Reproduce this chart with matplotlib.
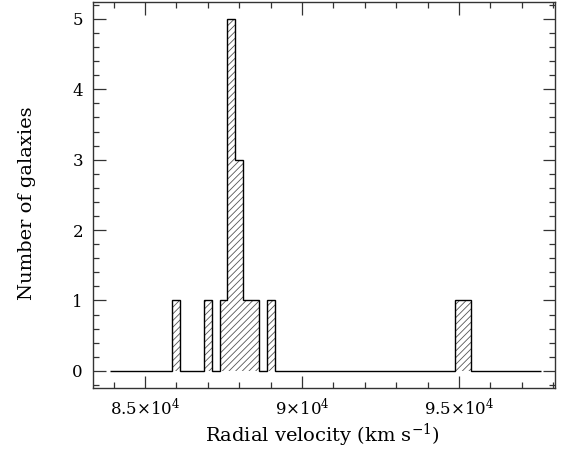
import numpy as np
import matplotlib
matplotlib.use("Agg")
import matplotlib.pyplot as plt
from matplotlib.ticker import MultipleLocator, FixedLocator, FixedFormatter

# ---- data ----
bin_start = 83875.0      # km/s, left edge of first bin
bin_width = 250.0        # km/s
counts = [0, 0, 0, 0, 0, 0, 0, 0, 1, 0,
          0, 0, 1, 0, 1, 5, 3, 1, 1, 0,
          1, 0, 0, 0, 0, 0, 0, 0, 0, 0,
          0, 0, 0, 0, 0, 0, 0, 0, 0, 0,
          0, 0, 0, 0, 1, 1, 0, 0, 0, 0,
          0, 0, 0, 0, 0]
xtick_values = [85000, 90000, 95000]
xtick_labels = [r"$8.5{\times}10^{4}$", r"$9{\times}10^{4}$", r"$9.5{\times}10^{4}$"]
ytick_values = [0, 1, 2, 3, 4, 5]
xlabel = r"Radial velocity (km s$^{-1}$)"
ylabel = "Number of galaxies"

plt.rcParams['font.family'] = ['DejaVu Serif']
plt.rcParams['mathtext.fontset'] = 'dejavuserif'
plt.rcParams['mathtext.default'] = 'rm'
plt.rcParams['hatch.linewidth'] = 0.6

edges = bin_start + bin_width * np.arange(len(counts) + 1)

fig = plt.figure(figsize=(5.66, 4.5), dpi=100)
ax = fig.add_axes([92.7/566, 1 - 387.7/450, (555 - 92.7)/566, (387.7 - 2)/450])

ax.stairs(counts, edges, baseline=0, fill=True, facecolor='none',
          edgecolor='#555555', linewidth=0, hatch='/////')
ax.stairs(counts, edges, baseline=0, fill=False, color='black', linewidth=1.0)

ax.set_xlim(83334, 98057)
ax.set_ylim(-0.24, 5.24)

ax.xaxis.set_major_locator(FixedLocator(xtick_values))
ax.xaxis.set_major_formatter(FixedFormatter(xtick_labels))
ax.xaxis.set_minor_locator(MultipleLocator(1000))
ax.yaxis.set_major_locator(FixedLocator(ytick_values))
ax.yaxis.set_minor_locator(MultipleLocator(0.2))

ax.tick_params(which='both', direction='in', top=True, right=True, color='#333333', width=0.9)
ax.tick_params(which='major', length=9, labelsize=12, pad=7)
ax.tick_params(which='minor', length=4.5)
for s in ax.spines.values():
    s.set_linewidth(1.0)
    s.set_color('#333333')

ax.set_xlabel(xlabel, fontsize=14)
ax.set_ylabel(ylabel, fontsize=14)
ax.xaxis.set_label_coords(0.496, -0.088)
ax.yaxis.set_label_coords(-0.122, 0.479)

fig.savefig("out.png", dpi=100)
